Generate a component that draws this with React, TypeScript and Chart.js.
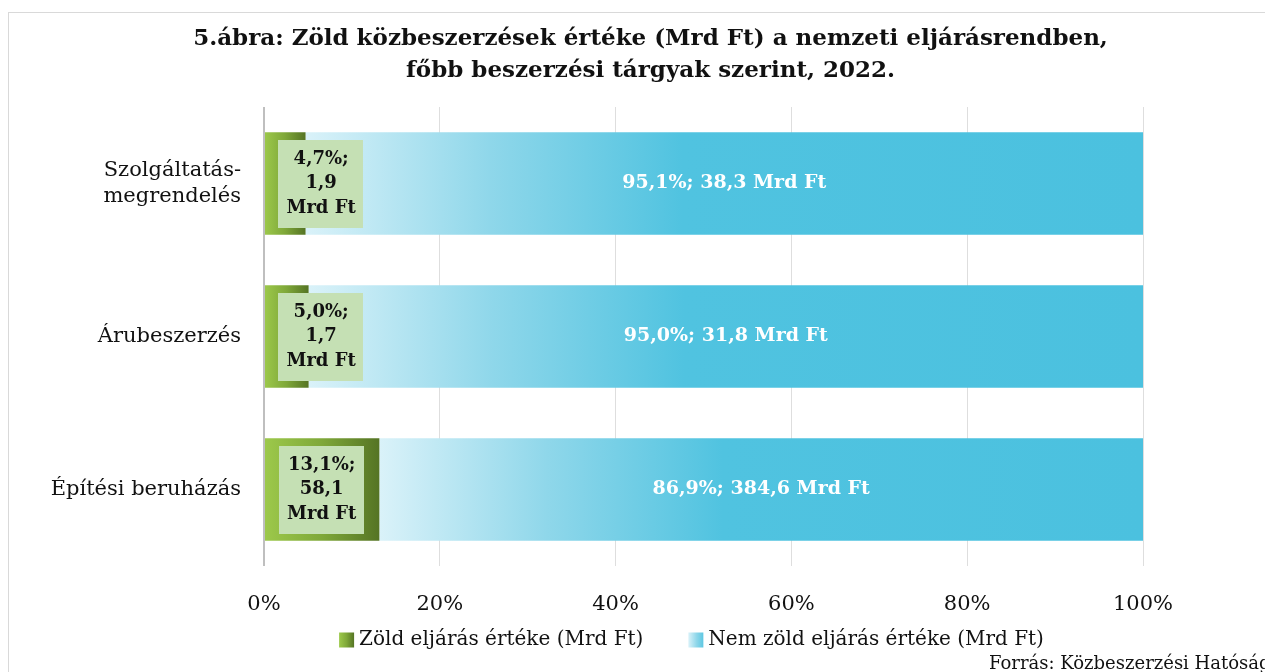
import React, { useEffect, useRef } from "react";
import { Chart, registerables } from "chart.js";

Chart.register(...registerables);

const categories: (string | string[])[] = [["Szolgáltatás-", "megrendelés"], "Árubeszerzés", "Építési beruházás"];
const greenMrd = [1.9, 1.7, 58.1];
const otherMrd = [38.3, 31.8, 384.6];
const greenPctLabels = ["4,7%", "5,0%", "13,1%"];
const otherPctLabels = ["95,1%", "95,0%", "86,9%"];
const greenMrdLabels = ["1,9", "1,7", "58,1"];
const otherMrdLabels = ["38,3", "31,8", "384,6"];
const xTicks = [0, 20, 40, 60, 80, 100];
const seriesNames = ["Zöld eljárás értéke (Mrd Ft)", "Nem zöld eljárás értéke (Mrd Ft)"];
const titleLines = ["5.ábra: Zöld közbeszerzések értéke (Mrd Ft) a nemzeti eljárásrendben,", "főbb beszerzési tárgyak szerint, 2022."];
const sourceText = "Forrás: Közbeszerzési Hatóság";

const FONT = '"DejaVu Serif", serif';

const totals = greenMrd.map((g, i) => g + otherMrd[i]);
const greenShare = greenMrd.map((g, i) => (g / totals[i]) * 100);
const otherShare = otherMrd.map((o, i) => (o / totals[i]) * 100);

function ok(...v: number[]) {
  return v.every((n) => Number.isFinite(n));
}

function greenGrad(c: CanvasRenderingContext2D, x0: number, x1: number) {
  if (!ok(x0, x1) || x0 === x1) return "#7fa839";
  const g = c.createLinearGradient(x0, 0, x1, 0);
  g.addColorStop(0, "#9dc94b");
  g.addColorStop(0.5, "#7fa839");
  g.addColorStop(1, "#557424");
  return g;
}
function blueGrad(c: CanvasRenderingContext2D, x0: number, x1: number) {
  if (!ok(x0, x1) || x0 === x1) return "#4bc1df";
  const g = c.createLinearGradient(x0, 0, x1, 0);
  g.addColorStop(0, "#daf2f9");
  g.addColorStop(0.22, "#8fd7ea");
  g.addColorStop(0.45, "#50c3e0");
  g.addColorStop(1, "#4bc1df");
  return g;
}

const overlay = {
  id: "overlay",
  afterDatasetsDraw(chart: any) {
    const c: CanvasRenderingContext2D = chart.ctx;
    const x = chart.scales.x;
    const y = chart.scales.y;
    c.save();
    greenShare.forEach((v, i) => {
      const cx = x.getPixelForValue(Math.max(v / 2, 6.5));
      const cy = y.getPixelForValue(i);
      const lines = [greenPctLabels[i] + ";", greenMrdLabels[i], "Mrd Ft"];
      c.font = `bold 18px ${FONT}`;
      const w = Math.max(...lines.map((l) => c.measureText(l).width)) + 16;
      const lh = 24.5;
      const h = 88;
      c.fillStyle = "#c5e0b4";
      c.fillRect(Math.round(cx - w / 2), Math.round(cy - h / 2), Math.round(w), h);
      c.fillStyle = "#111";
      c.textAlign = "center";
      c.textBaseline = "middle";
      lines.forEach((l, k) => c.fillText(l, cx, cy + (k - 1) * lh));
    });
    otherShare.forEach((v, i) => {
      const cx = x.getPixelForValue(greenShare[i] + v / 2);
      const cy = y.getPixelForValue(i);
      c.font = `bold 19px ${FONT}`;
      c.fillStyle = "#ffffff";
      c.textAlign = "center";
      c.textBaseline = "middle";
      c.fillText(`${otherPctLabels[i]}; ${otherMrdLabels[i]} Mrd Ft`, cx, cy);
    });
    c.restore();
  },
  afterDraw(chart: any) {
    const c: CanvasRenderingContext2D = chart.ctx;
    const area = chart.chartArea;
    const W = chart.width;
    c.save();
    c.font = `bold 23px ${FONT}`;
    c.fillStyle = "#111";
    c.textAlign = "center";
    c.textBaseline = "middle";
    c.fillText(titleLines[0], W / 2, 31);
    c.fillText(titleLines[1], W / 2, 63);
    c.font = `20px ${FONT}`;
    const sw = 15;
    const gap = 5;
    const itemGap = 45;
    const w0 = c.measureText(seriesNames[0]).width;
    const w1 = c.measureText(seriesNames[1]).width;
    const total = sw + gap + w0 + itemGap + sw + gap + w1;
    let lx = (area.left + area.right) / 2 - 12 - total / 2;
    const ly = 632;
    c.fillStyle = greenGrad(c, lx, lx + sw);
    c.fillRect(lx, ly - sw / 2, sw, sw);
    c.fillStyle = "#111";
    c.textAlign = "left";
    c.fillText(seriesNames[0], lx + sw + gap, ly);
    lx += sw + gap + w0 + itemGap;
    c.fillStyle = blueGrad(c, lx, lx + sw * 2.5);
    c.fillRect(lx, ly - sw / 2, sw, sw);
    c.fillStyle = "#111";
    c.fillText(seriesNames[1], lx + sw + gap, ly);
    c.font = `18px ${FONT}`;
    c.textBaseline = "alphabetic";
    c.fillText(sourceText, 981, 661);
    c.restore();
  },
};

export default function App() {
  const ref = useRef<HTMLCanvasElement | null>(null);
  useEffect(() => {
    document.body.style.overflow = "hidden";
    const canvas = ref.current!;
    const chart = new Chart(canvas, {
      type: "bar",
      data: {
        labels: categories as any,
        datasets: [
          {
            label: seriesNames[0],
            data: greenShare,
            backgroundColor: (ctx: any) => {
              const ch = ctx.chart;
              const xs = ch.scales?.x;
              if (!xs || ctx.dataIndex === undefined) return "#7fa839";
              return greenGrad(ch.ctx, xs.getPixelForValue(0), xs.getPixelForValue(greenShare[ctx.dataIndex]));
            },
            borderWidth: 0,
          },
          {
            label: seriesNames[1],
            data: otherShare,
            backgroundColor: (ctx: any) => {
              const ch = ctx.chart;
              const xs = ch.scales?.x;
              if (!xs || ctx.dataIndex === undefined) return "#4bc1df";
              return blueGrad(ch.ctx, xs.getPixelForValue(greenShare[ctx.dataIndex]), xs.getPixelForValue(100));
            },
            borderWidth: 0,
          },
        ],
      },
      options: {
        indexAxis: "y",
        animation: false,
        responsive: false,
        maintainAspectRatio: false,
        layout: { padding: { top: 99, right: 150, bottom: 40, left: 0 } },
        plugins: {
          legend: { display: false },
          title: { display: false },
          tooltip: { enabled: false },
        },
        datasets: { bar: { barPercentage: 0.67, categoryPercentage: 1 } },
        scales: {
          x: {
            stacked: true,
            min: 0,
            max: 100,
            afterBuildTicks: (s: any) => {
              s.ticks = xTicks.map((v) => ({ value: v }));
            },
            afterFit: (s: any) => {
              s.height = 66;
            },
            grid: {
              color: (ctx: any) => (ctx.tick && ctx.tick.value === 0 ? "#bfbfbf" : "#dedede"),
              lineWidth: (ctx: any) => (ctx.tick && ctx.tick.value === 0 ? 2 : 1),
              drawTicks: false,
            },
            border: { display: false },
            ticks: {
              padding: 26,
              color: "#111",
              font: { family: FONT, size: 21 },
              callback: (v: any) => `${v}%`,
            },
          },
          y: {
            stacked: true,
            grid: { display: false, drawTicks: false },
            border: { display: false },
            afterFit: (s: any) => {
              s.width = 256;
            },
            ticks: {
              padding: 23,
              color: "#111",
              font: { family: FONT, size: 21, lineHeight: 1.25 },
            },
          },
        },
      },
      plugins: [overlay],
    });
    return () => chart.destroy();
  }, []);
  return (
    <div style={{ position: "relative", width: 1285, height: 664 }}>
      <div
        style={{
          position: "absolute",
          left: 0,
          top: 4,
          width: 1320,
          height: 700,
          border: "1px solid #d9d9d9",
          boxSizing: "border-box",
        }}
      />
      <canvas ref={ref} width={1285} height={664} style={{ position: "absolute", left: 0, top: 0, width: 1285, height: 664 }} />
    </div>
  );
}
